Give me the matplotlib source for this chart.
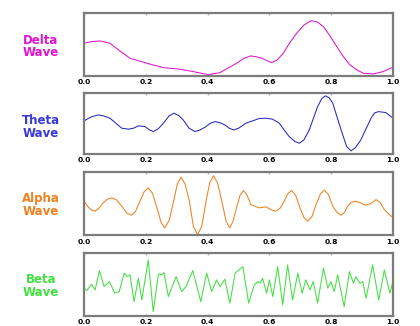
import numpy as np
import matplotlib
matplotlib.use("Agg")
import matplotlib.pyplot as plt

# values, x in [0, 1], y normalised to the frame height
delta_x = [0.000, 0.025, 0.052, 0.084, 0.115, 0.149, 0.203, 0.257, 0.311, 0.354, 0.402,
           0.440, 0.494, 0.515, 0.539, 0.560, 0.575, 0.607, 0.625, 0.645, 0.665, 0.688,
           0.712, 0.735, 0.755, 0.775, 0.797, 0.818, 0.840, 0.861, 0.884, 0.904, 0.936,
           0.968, 1.000]
delta_y = [0.520, 0.545, 0.556, 0.520, 0.400, 0.279, 0.199, 0.128, 0.103, 0.064, 0.016,
           0.048, 0.199, 0.270, 0.316, 0.300, 0.279, 0.208, 0.250, 0.359, 0.520, 0.679,
           0.810, 0.881, 0.860, 0.785, 0.630, 0.465, 0.300, 0.171, 0.090, 0.038, 0.027,
           0.064, 0.135]

theta_x = [0.000, 0.025, 0.046, 0.065, 0.084, 0.122, 0.144, 0.160, 0.176, 0.197, 0.210,
           0.224, 0.240, 0.257, 0.275, 0.291, 0.306, 0.321, 0.340, 0.359, 0.375, 0.392,
           0.408, 0.424, 0.440, 0.456, 0.470, 0.485, 0.500, 0.524, 0.567, 0.588, 0.610,
           0.632, 0.648, 0.664, 0.683, 0.697, 0.712, 0.729, 0.756, 0.770, 0.781, 0.793,
           0.805, 0.832, 0.850, 0.864, 0.878, 0.896, 0.929, 0.940, 0.953, 0.977, 1.000]
theta_y = [0.541, 0.610, 0.639, 0.620, 0.585, 0.421, 0.405, 0.420, 0.459, 0.448, 0.400,
           0.366, 0.410, 0.503, 0.620, 0.667, 0.630, 0.557, 0.420, 0.366, 0.390, 0.438,
           0.500, 0.530, 0.510, 0.475, 0.420, 0.393, 0.420, 0.503, 0.579, 0.585, 0.569,
           0.503, 0.390, 0.284, 0.200, 0.175, 0.230, 0.393, 0.775, 0.910, 0.951, 0.920,
           0.831, 0.393, 0.120, 0.049, 0.100, 0.230, 0.585, 0.670, 0.693, 0.677, 0.585]

alpha_x = [0.000, 0.014, 0.025, 0.036, 0.049, 0.062, 0.076, 0.090, 0.105, 0.122, 0.139,
           0.154, 0.167, 0.181, 0.195, 0.208, 0.222, 0.236, 0.249, 0.261, 0.276, 0.290,
           0.302, 0.314, 0.327, 0.341, 0.354, 0.367, 0.381, 0.395, 0.407, 0.419, 0.432,
           0.446, 0.460, 0.472, 0.482, 0.492, 0.505, 0.516, 0.527, 0.540, 0.567, 0.589,
           0.607, 0.621, 0.635, 0.648, 0.660, 0.672, 0.685, 0.699, 0.712, 0.724, 0.737,
           0.751, 0.765, 0.778, 0.791, 0.805, 0.819, 0.832, 0.843, 0.853, 0.865, 0.877,
           0.892, 0.910, 0.928, 0.945, 0.958, 0.972, 0.994, 1.000]
alpha_y = [0.539, 0.444, 0.400, 0.381, 0.430, 0.512, 0.570, 0.591, 0.560, 0.460, 0.350,
           0.318, 0.380, 0.539, 0.690, 0.748, 0.660, 0.433, 0.210, 0.118, 0.240, 0.539,
           0.810, 0.917, 0.810, 0.539, 0.140, 0.013, 0.140, 0.539, 0.830, 0.937, 0.830,
           0.539, 0.220, 0.118, 0.220, 0.406, 0.630, 0.706, 0.640, 0.485, 0.433, 0.449,
           0.400, 0.381, 0.430, 0.539, 0.660, 0.706, 0.630, 0.433, 0.280, 0.224, 0.290,
           0.485, 0.650, 0.712, 0.640, 0.460, 0.360, 0.318, 0.360, 0.460, 0.520, 0.539,
           0.520, 0.476, 0.500, 0.564, 0.520, 0.406, 0.302, 0.290]

beta_x = [0.000, 0.009, 0.025, 0.036, 0.050, 0.065, 0.082, 0.100, 0.114, 0.130, 0.140,
          0.149, 0.162, 0.176, 0.187, 0.208, 0.224, 0.241, 0.251, 0.259, 0.273, 0.298,
          0.316, 0.330, 0.352, 0.378, 0.397, 0.413, 0.429, 0.440, 0.456, 0.472, 0.489,
          0.514, 0.533, 0.551, 0.562, 0.570, 0.578, 0.591, 0.600, 0.611, 0.627, 0.643,
          0.659, 0.675, 0.692, 0.706, 0.718, 0.731, 0.742, 0.756, 0.775, 0.789, 0.799,
          0.810, 0.821, 0.842, 0.859, 0.872, 0.880, 0.893, 0.902, 0.913, 0.934, 0.954,
          0.972, 0.990, 1.000]
beta_y = [0.442, 0.404, 0.506, 0.415, 0.723, 0.467, 0.547, 0.362, 0.388, 0.681, 0.627,
          0.654, 0.228, 0.601, 0.255, 0.893, 0.069, 0.670, 0.654, 0.691, 0.308, 0.627,
          0.388, 0.467, 0.723, 0.228, 0.681, 0.388, 0.574, 0.467, 0.585, 0.203, 0.681,
          0.786, 0.203, 0.494, 0.547, 0.521, 0.601, 0.362, 0.574, 0.308, 0.786, 0.175,
          0.813, 0.255, 0.681, 0.362, 0.574, 0.415, 0.547, 0.203, 0.760, 0.442, 0.547,
          0.388, 0.654, 0.148, 0.707, 0.521, 0.627, 0.521, 0.547, 0.282, 0.813, 0.255,
          0.734, 0.362, 0.547]

names = ["Delta\nWave", "Theta\nWave", "Alpha\nWave", "Beta\nWave"]
colors = ["#e014cc", "#2828c0", "#f08020", "#40e040"]
text_colors = ["#e014d0", "#3838d8", "#f08020", "#40e040"]
series = [(delta_x, delta_y), (theta_x, theta_y), (alpha_x, alpha_y), (beta_x, beta_y)]

# axes boxes in figure fraction (left, bottom, width, height)
boxes = [[0.2, 0.768, 0.7357, 0.1914],
         [0.2, 0.528, 0.7357, 0.1871],
         [0.2, 0.278, 0.7357, 0.1948],
         [0.2, 0.031, 0.7357, 0.1923]]
label_y = [46.5, 127.0, 205.0, 286.0]  # label centres, pixels from the top

fig = plt.figure(figsize=(4.2, 3.26), dpi=100)
fig.patch.set_facecolor("white")

for i in range(4):
    ax = fig.add_axes(boxes[i])
    xs, ys = series[i]
    ax.plot(xs, ys, color=colors[i], lw=0.75, solid_joinstyle="round")
    ax.set_xlim(0, 1)
    ax.set_ylim(0, 1)
    ax.set_yticks([])
    ax.set_xticks(np.arange(0, 1.01, 0.2))
    ax.set_xticklabels(["0.0", "0.2", "0.4", "0.6", "0.8", "1.0"], fontsize=5.4,
                       fontweight="bold")
    ax.tick_params(axis="x", direction="in", length=1.5, width=1, color="#b0b0b0",
                   top=True, pad=2.5)
    for sp in ax.spines.values():
        sp.set_color("#7c7c7c")
        sp.set_linewidth(1.6)
    fig.text(0.097, 1 - label_y[i] / 326, names[i], color=text_colors[i],
             fontsize=8.5, fontweight="bold", ha="center", va="center",
             linespacing=1.0)

fig.savefig("out.png", dpi=100)
